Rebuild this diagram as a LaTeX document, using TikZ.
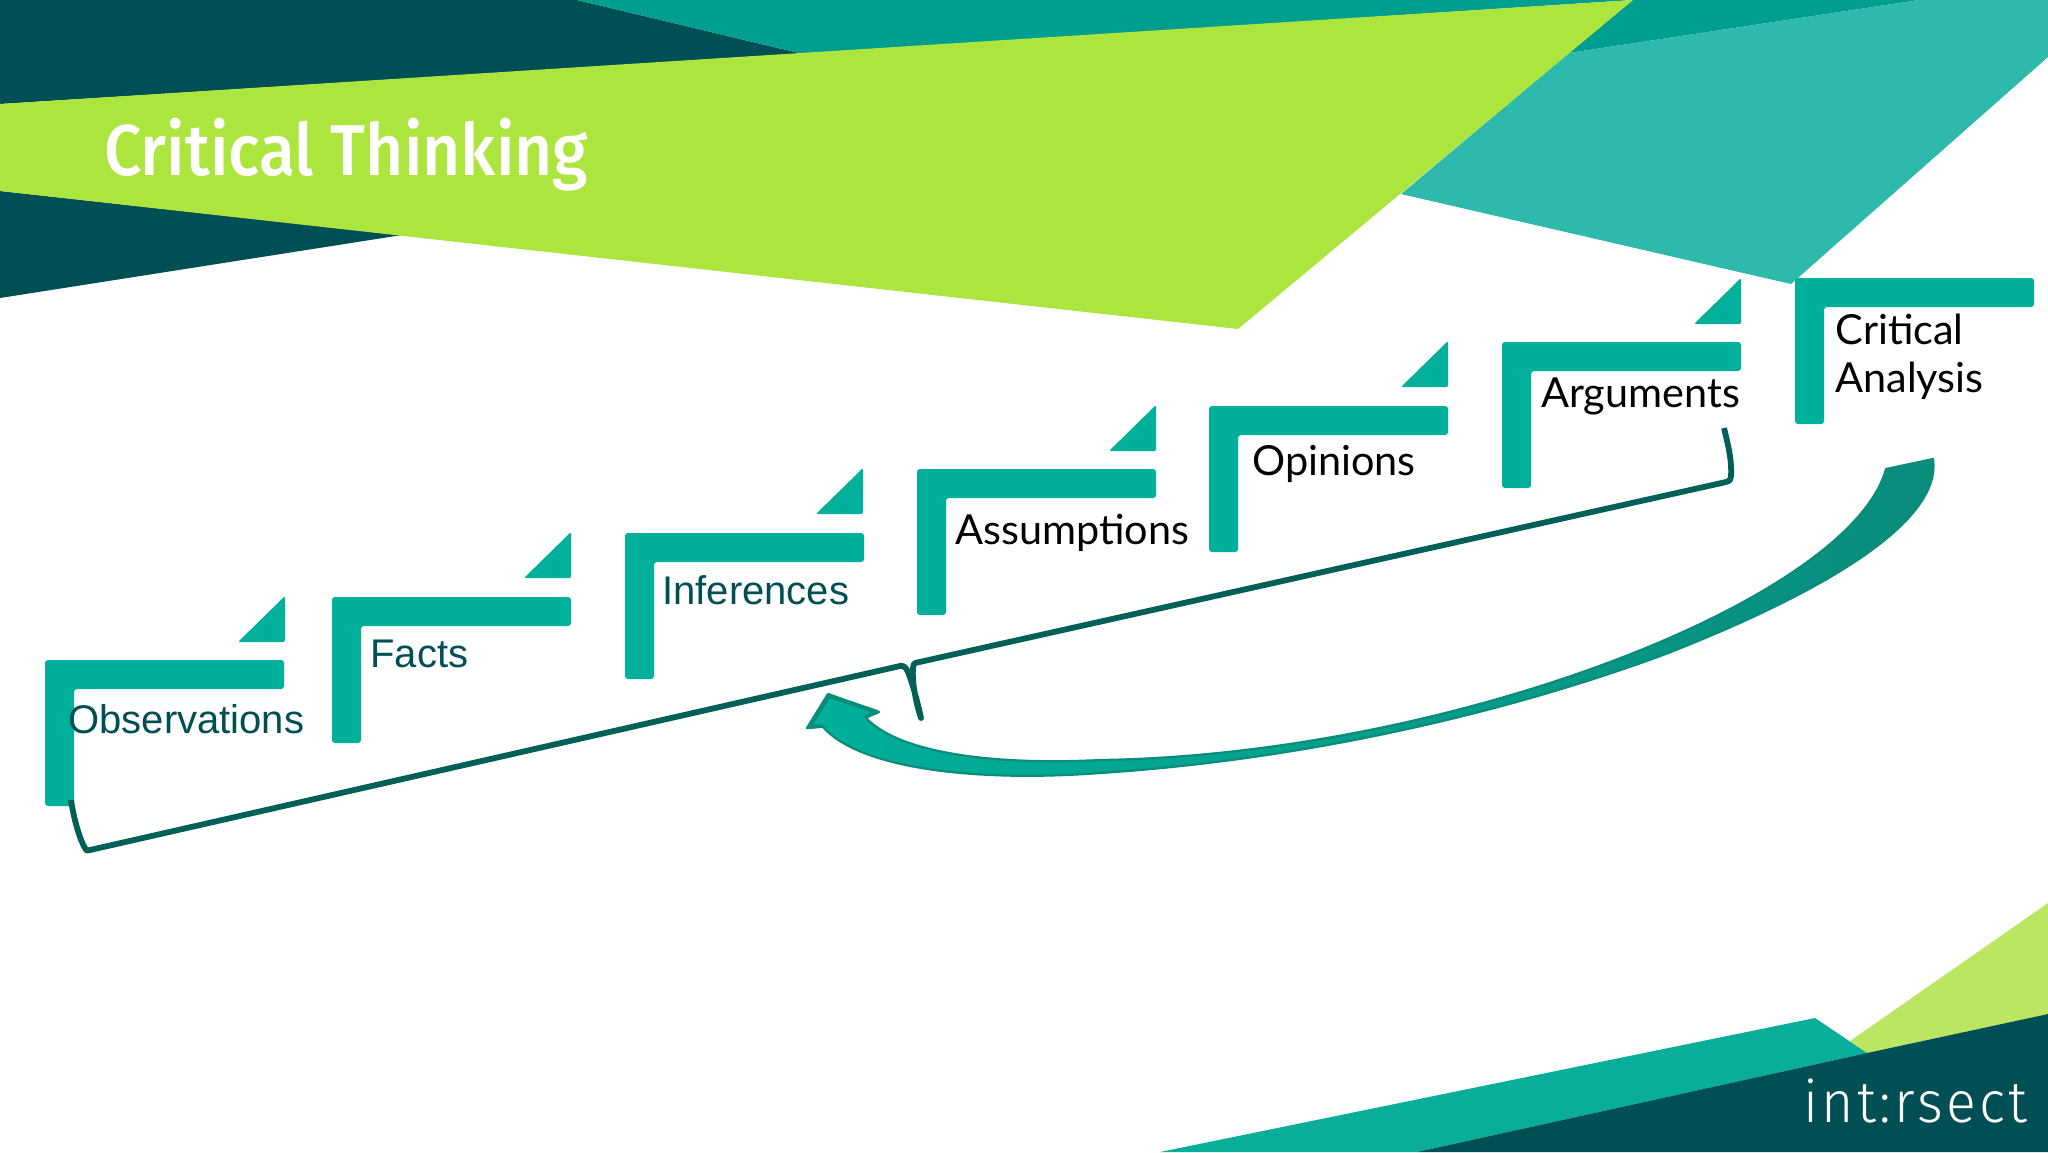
\documentclass[tikz,border=0pt]{standalone}
\usepackage{fontspec}
\setmainfont{Liberation Sans}
\newfontfamily\openf{Lato}
\newfontfamily\titlef{Fira Sans}[UprightFont=* Medium]
\newfontfamily\logof{Fira Sans}[UprightFont=* Light,LetterSpace=6]
\definecolor{deep}{HTML}{004F55}
\definecolor{topteal}{HTML}{009E8F}
\definecolor{lime}{HTML}{ADE53F}
\definecolor{softteal}{HTML}{2DB9AB}
\definecolor{softlime}{HTML}{BCE662}
\definecolor{stepteal}{HTML}{00B09B}
\definecolor{bandteal}{HTML}{08AE9A}
\definecolor{lineteal}{HTML}{005F56}
\definecolor{arrowdark}{HTML}{0A8C7B}
\tikzset{
  stepbar/.style={fill=stepteal,rounded corners=1.5pt},
  stepcorner/.style={fill=stepteal,rounded corners=1pt},
  lbl/.style={anchor=base west,inner sep=0pt,font=\fontsize{20}{24}\selectfont,text=deep},
  lblb/.style={anchor=base west,inner sep=0pt,font=\fontsize{20.7}{24}\selectfont\openf,text=black},
}
\newcommand{\stepshape}[2]{%
  \fill[stepbar] (#1,#2) -- ++(239,0) -- ++(0,29) -- ++(-210,0) -- ++(0,117) -- ++(-29,0) -- cycle;}
\newcommand{\stepflag}[2]{%
  \fill[stepcorner] (#1,#2-1) -- ++(0,46) -- ++(-47,0) -- cycle;}
\begin{document}
\begin{tikzpicture}[x=0.5pt,y=-0.5pt]
\useasboundingbox (0,0) rectangle (2048,1152);
\fill[white] (0,0) rectangle (2048,1152);
% header bands
\fill[deep] (0,0) -- (577,0) -- (803,54) -- (0,104) -- cycle;
\fill[deep] (0,191) -- (0,298) -- (402,235) -- cycle;
\fill[topteal] (577,0) -- (1919,0) -- (1569,53) -- (1633,0) -- (803,54) -- cycle;
\fill[softteal] (1919,0) -- (2048,0) -- (2048,57) -- (1791,284) -- (1401,194) -- (1569,53) -- cycle;
\fill[lime] (0,104) -- (1633,0) -- (1238,329) -- (0,191) -- cycle;
% footer bands
\fill[softlime] (1850,1041) -- (2048,903) -- (2048,1014) -- (1867,1053) -- cycle;
\fill[bandteal] (1160,1152) -- (1815,1018) -- (1867,1053) -- (1417,1152) -- cycle;
\fill[deep] (1417,1152) -- (1867,1053) -- (2048,1014) -- (2048,1152) -- cycle;
% title and logo
\node[anchor=base west,inner sep=0pt,text=white] (title) at (104,175)
  {\scalebox{0.915}[1]{\titlef\fontsize{36}{40}\selectfont Critical Thinking}};
\node[anchor=base west,inner sep=0pt,text=white] (logo) at (1803,1122)
  {\scalebox{0.955}[1]{\logof\fontsize{29}{32}\selectfont int:rsect}};
% steps
\stepshape{45}{660}\stepshape{332}{597}\stepshape{625}{533}\stepshape{917}{469}
\stepshape{1209}{406}\stepshape{1502}{342}\stepshape{1795}{278}
\stepflag{285}{597}\stepflag{571}{533}\stepflag{863}{469}\stepflag{1156}{406}
\stepflag{1448}{342}\stepflag{1741}{279}
% labels
\node[lbl] (obs) at (68,733) {Observations};
\node[lbl] (facts) at (370,667) {Facts};
\node[lbl] (inf) at (662,604) {Inferences};
\node[lblb] (ass) at (955,544) {Assumptions};
\node[lblb] (opi) at (1252,475) {Opinions};
\node[lblb] (arg) at (1541,407) {Arguments};
\node[lblb] (cr1) at (1835,344) {Critical};
\node[lblb] (cr2) at (1835,392) {Analysis};
% brace
\coordinate (bL) at (71,800);
\coordinate (bC) at (90,850);
\coordinate (bM1) at (902,666);
\coordinate (bTip) at (921,718);
\coordinate (bM2) at (915,663);
\coordinate (bR) at (1728,482);
\coordinate (bE) at (1724,428);
\draw[lineteal,line width=2.9pt,line join=round]
  (bL) .. controls (74,820) and (80,840) .. (85,848)
  .. controls (86,851) and (88,851) .. (bC)
  -- (900,666) .. controls (904,665) and (906,668) .. (908,672)
  .. controls (913,685) and (917,700) .. (bTip)
  .. controls (915,700) and (912,680) .. (913,668)
  .. controls (913,665) and (914,664) .. (bM2)
  -- (1726,482) .. controls (1730,481) and (1731,479) .. (1731,476)
  .. controls (1732,460) and (1728,445) .. (bE);
% curved arrow
\path[draw=arrowdark,line width=1.1pt,line join=round,left color=stepteal,middle color=arrowdark,right color=arrowdark]
  (1886,469) -- (1933,459)
  .. controls (1942,520) and (1830,590) .. (1663,655)
  .. controls (1500,715) and (1300,760) .. (1100,773)
  .. controls (980,782) and (860,770) .. (822,726)
  -- (807,728) -- (828,694) -- (879,712) -- (865,717)
  .. controls (900,755) and (1000,765) .. (1100,760)
  .. controls (1450,755) and (1850,600) .. (1886,469)
  -- cycle;
\draw[arrowdark,line width=2pt,line join=round] (822,726) -- (809,727) -- (829,696) -- (877,712) -- (865,717);
\end{tikzpicture}
\end{document}
